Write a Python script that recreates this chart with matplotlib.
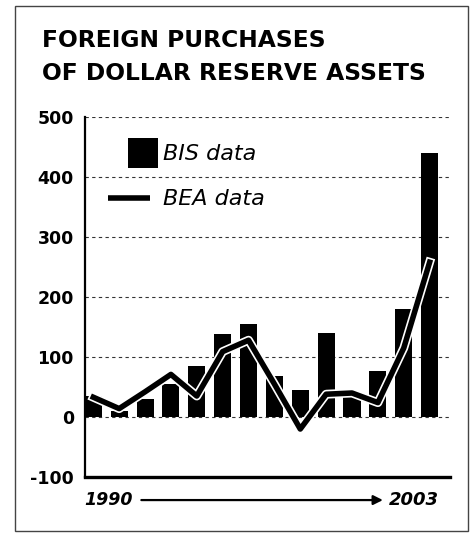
import matplotlib
matplotlib.use("Agg")
import matplotlib.pyplot as plt
import matplotlib.patheffects as pe
from matplotlib.patches import Rectangle

# Values (billions of dollars)
years = list(range(1990, 2004))
bis_data = [35, 10, 30, 55, 85, 138, 155, 68, 45, 140, 35, 77, 180, 440]
bea_data = [33, 14, 42, 71, 35, 109, 128, 55, -20, 38, 40, 24, 115, 258]
y_ticks = [-100, 0, 100, 200, 300, 400, 500]

title_lines = ["FOREIGN PURCHASES", "OF DOLLAR RESERVE ASSETS"]

plt.rcParams["font.family"] = ["DejaVu Sans"]

fig = plt.figure(figsize=(4.76, 5.34), dpi=100)
ax = fig.add_axes([0.1786, 0.1067, 0.7664, 0.6742])

x = list(range(len(years)))

# Bars (BIS) and line with white halo (BEA)
ax.bar(x, bis_data, width=0.66, color="black", zorder=2)
ax.plot(x, bea_data, color="black", linewidth=4.0, solid_joinstyle="round",
        zorder=3,
        path_effects=[pe.Stroke(linewidth=6.4, foreground="white"), pe.Normal()])

ax.set_xlim(-0.32, 13.78)
ax.set_ylim(-100, 500)
ax.set_yticks(y_ticks)
ax.set_yticklabels([str(v) for v in y_ticks], fontsize=12.5, fontweight="bold")
ax.tick_params(axis="y", length=0, pad=8)
ax.set_xticks([])

# dashed horizontal gridlines
for v in y_ticks[1:]:
    ax.axhline(v, color="#333333", linewidth=0.8, linestyle=(0, (3, 3)), zorder=1)

for side in ["top", "right"]:
    ax.spines[side].set_visible(False)
ax.spines["left"].set_linewidth(1.6)
ax.spines["bottom"].set_linewidth(2.4)

# legend drawn by hand
ax.add_patch(Rectangle((0.118, 0.858), 0.082, 0.084, transform=ax.transAxes,
                       facecolor="black", edgecolor="none", zorder=4))
ax.text(0.214, 0.897, "BIS data", transform=ax.transAxes, fontsize=16,
        style="italic", va="center", ha="left")
ax.plot([0.063, 0.178], [0.775, 0.775], transform=ax.transAxes,
        color="black", linewidth=4.0, solid_capstyle="butt")
ax.text(0.214, 0.772, "BEA data", transform=ax.transAxes, fontsize=16,
        style="italic", va="center", ha="left")

# year labels under the axis with an arrow between them
trans = ax.get_xaxis_transform()
ax.text(-0.35, -0.064, str(years[0]), transform=trans, fontsize=12.5,
        fontweight="bold", style="italic", ha="left", va="center")
ax.text(13.35, -0.064, str(years[-1]), transform=trans, fontsize=13,
        fontweight="bold", style="italic", ha="right", va="center")
ax.annotate("", xy=(11.3, -0.064), xytext=(1.75, -0.064),
            xycoords=trans, textcoords=trans, annotation_clip=False,
            arrowprops=dict(arrowstyle="-|>", color="black", lw=1.6,
                            mutation_scale=14))

# title
fig.text(0.088, 0.912, title_lines[0], fontsize=16.8, fontweight="bold",
         ha="left", va="baseline")
fig.text(0.088, 0.850, title_lines[1], fontsize=16.8, fontweight="bold",
         ha="left", va="baseline")

# frame around the whole graphic
fig.patches.append(Rectangle((0.0315, 0.0056), 0.952, 0.983,
                             transform=fig.transFigure, fill=False,
                             edgecolor="#444444", linewidth=1.0))

fig.savefig("out.png", dpi=100)
